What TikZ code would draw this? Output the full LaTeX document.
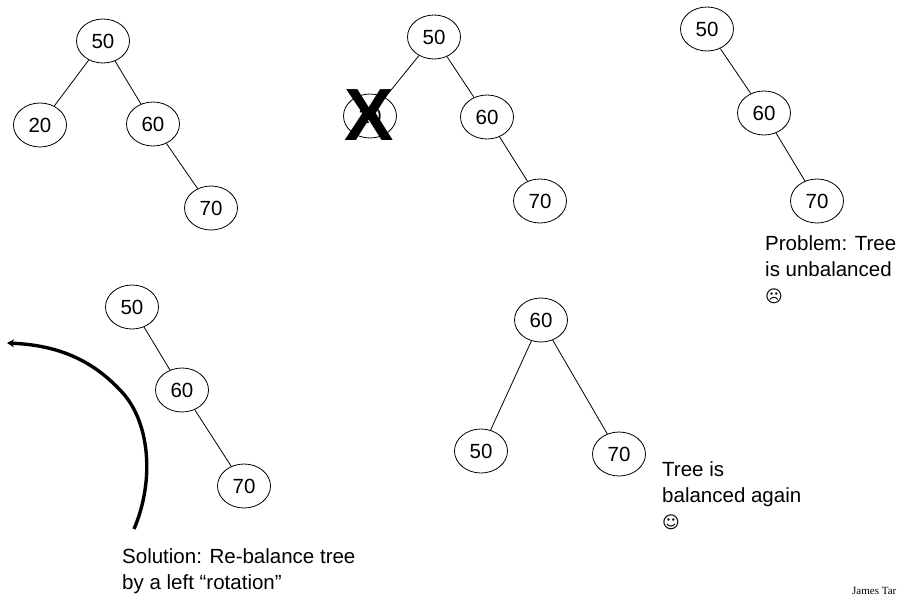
\documentclass[tikz,border=0pt]{standalone}
\usepackage{fontspec}
\setmainfont{Liberation Sans}
\newfontfamily\symfont{DejaVu Sans}
\newfontfamily\serifnote{Liberation Serif}
\usetikzlibrary{shapes.geometric,arrows.meta}
\begin{document}
\begin{tikzpicture}[x=1pt,y=-1pt,
  keynode/.style={ellipse,draw,line width=0.8pt,minimum width=53pt,minimum height=44pt,inner sep=0pt,font=\fontsize{20.5}{24}\selectfont},
  edge/.style={line width=0.8pt},
  caption/.style={anchor=north west,align=left,inner sep=0pt,font=\fontsize{20.5}{26}\selectfont}]
\useasboundingbox (0,0) rectangle (904,606);
% first tree
\node[keynode] (a50) at (103,41) {50};
\node[keynode] (a20) at (40,125) {20};
\node[keynode] (a60) at (153,124) {60};
\node[keynode] (a70) at (211,208) {70};
\draw[edge] (a50) -- (a20);
\draw[edge] (a50) -- (a60);
\draw[edge] (a60) -- (a70);
% 20 is removed
\node[keynode] (b50) at (434,37) {50};
\node[keynode] (b20) at (370,116) {20};
\node[keynode] (b60) at (487,117) {60};
\node[keynode] (b70) at (540,201) {70};
\draw[edge] (b50) -- (b20);
\draw[edge] (b50) -- (b60);
\draw[edge] (b60) -- (b70);
\node[inner sep=0pt,font=\bfseries\fontsize{74}{74}\selectfont] (cross) at (369,115) {X};
% unbalanced result
\node[keynode] (c50) at (707,29) {50};
\node[keynode] (c60) at (764,113) {60};
\node[keynode] (c70) at (817,201) {70};
\draw[edge] (c50) -- (c60);
\draw[edge] (c60) -- (c70);
\node[caption] (problem) at (765,235) {Problem: Tree\\is unbalanced\\{\symfont\fontsize{17}{26}\selectfont ☹}};
% before rotation
\node[keynode] (d50) at (132,307) {50};
\node[keynode] (d60) at (182,390) {60};
\node[keynode] (d70) at (244,486) {70};
\draw[edge] (d50) -- (d60);
\draw[edge] (d60) -- (d70);
% rotation arrow
\coordinate (rotStart) at (134,529);
\coordinate (rotEnd) at (7,343);
\draw[line width=3.4pt,-{Stealth[length=7pt,width=8pt]}] (rotStart) .. controls (155,480) and (150,420) .. (120,390) .. controls (90,358) and (55,345) .. (rotEnd);
\node[caption] (solution) at (122,548) {Solution: Re-balance tree\\by a left “rotation”};
% after rotation
\node[keynode] (e60) at (541,320) {60};
\node[keynode] (e50) at (481,451) {50};
\node[keynode] (e70) at (619,454) {70};
\draw[edge] (e60) -- (e50);
\draw[edge] (e60) -- (e70);
\node[caption] (balanced) at (662,461) {Tree is\\balanced again\\{\symfont\fontsize{17}{26}\selectfont ☺}};
% footer
\node[anchor=west,inner sep=0pt,font=\serifnote\fontsize{11}{12}\selectfont] (author) at (852,591) {James Tar};
\end{tikzpicture}
\end{document}
